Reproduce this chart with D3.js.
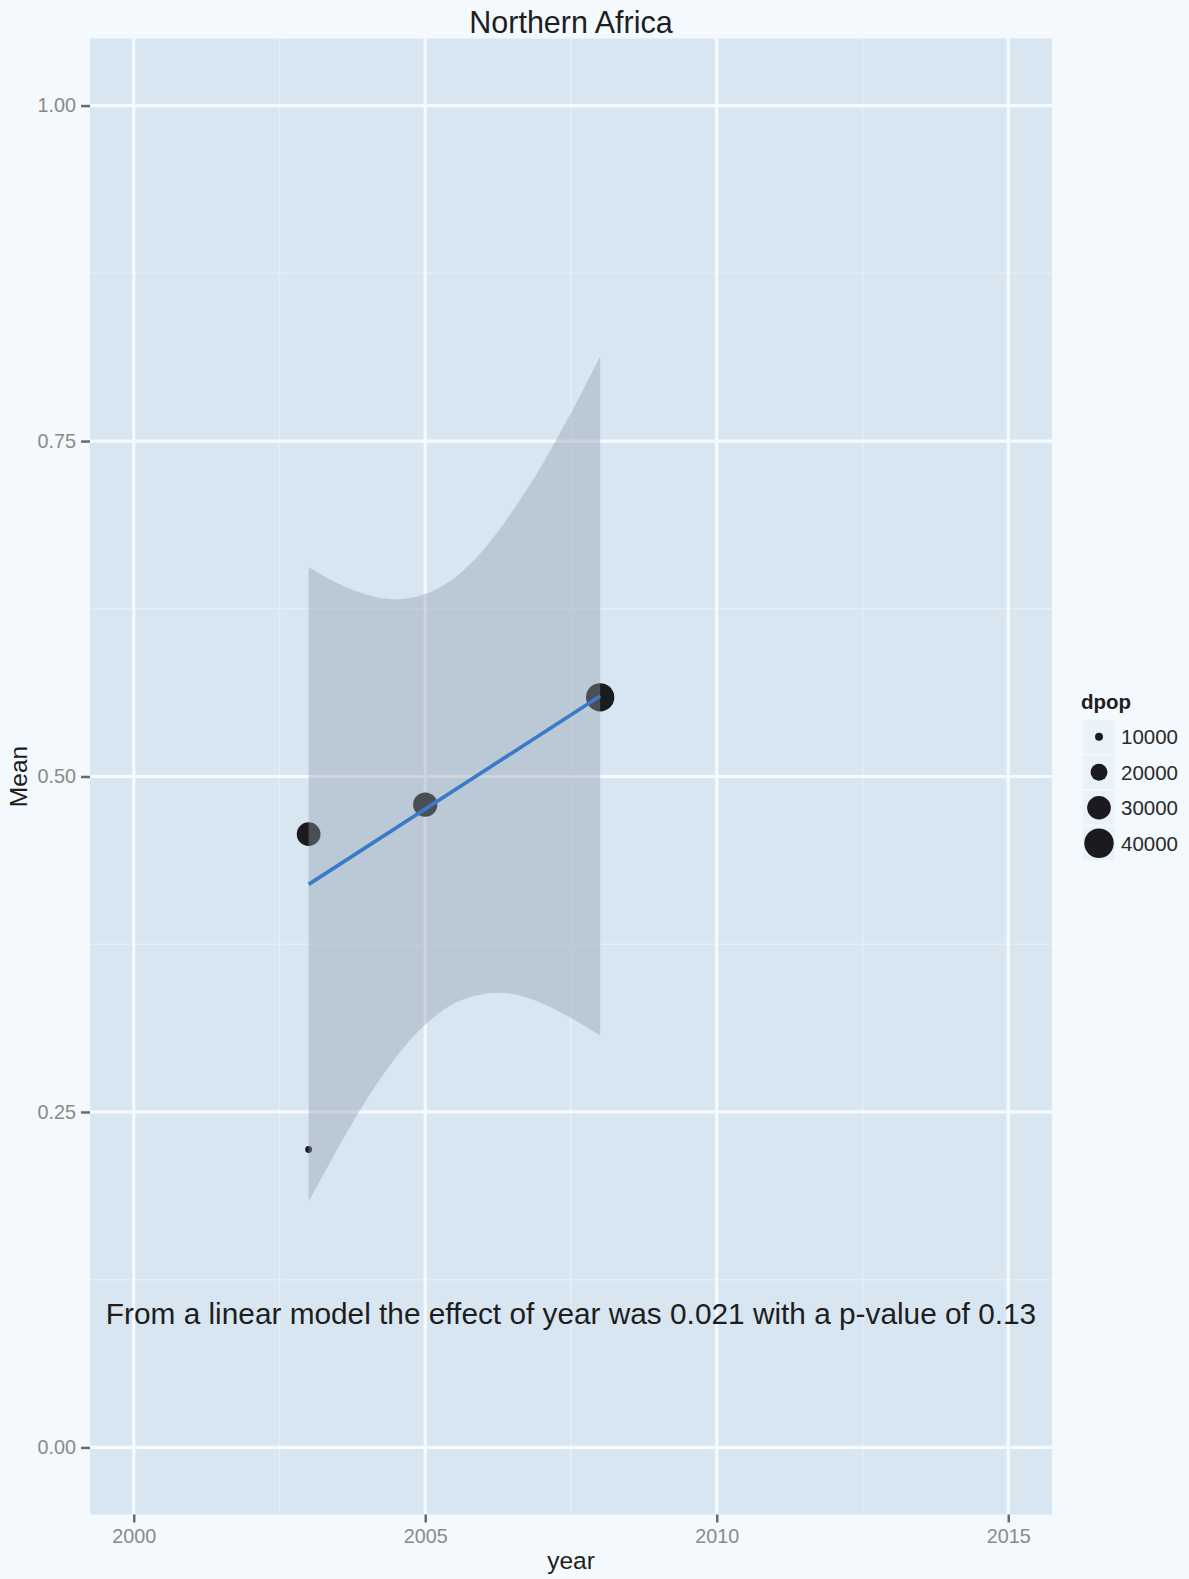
<!DOCTYPE html>
<html>
<head>
<meta charset="utf-8">
<script src="https://cdnjs.cloudflare.com/ajax/libs/d3/7.8.5/d3.min.js"></script>
<style>
  html, body { margin: 0; padding: 0; background: #f3f9fd; }
  svg { display: block; }
  text { font-family: "Liberation Sans", Arial, sans-serif; }
</style>
</head>
<body>
<script>
// ---- data ----
const title = "Northern Africa";
const pointYears = [2003, 2003, 2005, 2008];
const pointMeans = [0.457, 0.222, 0.479, 0.559];
const pointDpop  = [30000, 9000, 31000, 38000];

const fitYears = [2003, 2008];
const fitMeans = [0.4196, 0.5600];

const ribbonYears = [2003, 2003.5, 2004, 2004.5, 2005, 2005.5, 2006, 2006.5, 2007, 2007.5, 2008];
const ribbonUpper = [0.656, 0.644, 0.6355, 0.632, 0.636, 0.648, 0.669, 0.698, 0.732, 0.771, 0.813];
const ribbonLower = [0.183, 0.223, 0.2597, 0.291, 0.315, 0.331, 0.338, 0.338, 0.331, 0.320, 0.307];

const xTicks = [2000, 2005, 2010, 2015];
const xMinor = [2002.5, 2007.5, 2012.5];
const yTicks = [0, 0.25, 0.5, 0.75, 1.0];
const yMinor = [0.125, 0.375, 0.625, 0.875];

const legendTitle = "dpop";
const legendValues = [10000, 20000, 30000, 40000];

const annotation = "From a linear model the effect of year was 0.021 with a p-value of 0.13";
const annotationPos = [2007.5, 0.1];

// ---- layout ----
const W = 1189, H = 1579;
const panel = { left: 90, right: 1052, top: 38.5, bottom: 1514.5 };

const svg = d3.select("body").append("svg").attr("width", W).attr("height", H);
svg.append("rect").attr("width", W).attr("height", H).attr("fill", "#f3f9fd");

const x = d3.scaleLinear().domain([1999.25, 2015.75]).range([panel.left, panel.right]);
const y = d3.scaleLinear().domain([-0.05, 1.05]).range([panel.bottom, panel.top]);
const r = d3.scaleSqrt().domain([10000, 40000]).range([4, 14.7]);

// panel background
svg.append("rect")
  .attr("x", panel.left).attr("y", panel.top)
  .attr("width", panel.right - panel.left).attr("height", panel.bottom - panel.top)
  .attr("fill", "#d8e6f2");

const grid = svg.append("g");
// minor grid
grid.selectAll(".xm").data(xMinor).enter().append("line")
  .attr("x1", d => x(d)).attr("x2", d => x(d))
  .attr("y1", panel.top).attr("y2", panel.bottom)
  .attr("stroke", "#e4eef7").attr("stroke-width", 1.6);
grid.selectAll(".ym").data(yMinor).enter().append("line")
  .attr("y1", d => y(d)).attr("y2", d => y(d))
  .attr("x1", panel.left).attr("x2", panel.right)
  .attr("stroke", "#e4eef7").attr("stroke-width", 1.6);
// major grid
grid.selectAll(".xM").data(xTicks).enter().append("line")
  .attr("x1", d => x(d)).attr("x2", d => x(d))
  .attr("y1", panel.top).attr("y2", panel.bottom)
  .attr("stroke", "#f6fafd").attr("stroke-width", 3.2);
grid.selectAll(".yM").data(yTicks).enter().append("line")
  .attr("y1", d => y(d)).attr("y2", d => y(d))
  .attr("x1", panel.left).attr("x2", panel.right)
  .attr("stroke", "#f6fafd").attr("stroke-width", 3.2);

// points (drawn before the ribbon, as in the reference)
const pts = pointYears.map((yr, i) => ({ yr, m: pointMeans[i], p: pointDpop[i] }));
svg.append("g").selectAll("circle").data(pts).enter().append("circle")
  .attr("cx", d => x(d.yr)).attr("cy", d => y(d.m)).attr("r", d => r(d.p))
  .attr("fill", "#1b1b1f");

// confidence ribbon
const rib = ribbonYears.map((yr, i) => ({ yr, lo: ribbonLower[i], hi: ribbonUpper[i] }));
const area = d3.area()
  .x(d => x(d.yr)).y0(d => y(d.lo)).y1(d => y(d.hi))
  .curve(d3.curveNatural);
svg.append("path").datum(rib).attr("d", area)
  .attr("fill", "rgb(146,155,172)").attr("fill-opacity", 0.4);

// fitted line
const fit = fitYears.map((yr, i) => ({ yr, m: fitMeans[i] }));
svg.append("path").datum(fit)
  .attr("d", d3.line().x(d => x(d.yr)).y(d => y(d.m)))
  .attr("fill", "none").attr("stroke", "#3a7bc8").attr("stroke-width", 3.6);

// annotation
svg.append("text")
  .attr("x", x(annotationPos[0])).attr("y", y(annotationPos[1]))
  .attr("text-anchor", "middle").attr("dominant-baseline", "central")
  .attr("font-size", 29.8).attr("fill", "#1e1e1e")
  .text(annotation);

// axes
const xAxis = d3.axisBottom(x).tickValues(xTicks).tickFormat(d3.format("d")).tickSize(8).tickPadding(6);
const gx = svg.append("g").attr("transform", `translate(0,${panel.bottom})`).call(xAxis);
gx.select(".domain").remove();
gx.selectAll(".tick line").attr("stroke", "#6a6a6a").attr("stroke-width", 2.5);
gx.selectAll(".tick text").attr("font-size", 19.8).attr("fill", "#8a8a8a")
  .attr("font-family", "'Liberation Sans', Arial, sans-serif");

const yAxis = d3.axisLeft(y).tickValues(yTicks).tickFormat(d3.format(".2f")).tickSize(9).tickPadding(5);
const gy = svg.append("g").attr("transform", `translate(${panel.left},0)`).call(yAxis);
gy.select(".domain").remove();
gy.selectAll(".tick line").attr("stroke", "#6a6a6a").attr("stroke-width", 2.5);
gy.selectAll(".tick text").attr("font-size", 19.8).attr("fill", "#8a8a8a")
  .attr("font-family", "'Liberation Sans', Arial, sans-serif");

// titles
svg.append("text").attr("x", (panel.left + panel.right) / 2).attr("y", 32.5)
  .attr("text-anchor", "middle").attr("font-size", 30.5).attr("fill", "#1e1e1e").text(title);
svg.append("text").attr("x", (panel.left + panel.right) / 2).attr("y", 1569)
  .attr("text-anchor", "middle").attr("font-size", 24.5).attr("fill", "#1e1e1e").text("year");
svg.append("text")
  .attr("transform", `translate(26.5,${(panel.top + panel.bottom) / 2}) rotate(-90)`)
  .attr("text-anchor", "middle").attr("font-size", 24.5).attr("fill", "#1e1e1e").text("Mean");

// legend
const lg = svg.append("g");
lg.append("text").attr("x", 1081).attr("y", 709).attr("font-size", 20.5).attr("font-weight", "bold")
  .attr("fill", "#1e1e1e").text(legendTitle);
const keyTop = 719, keyH = 35.5, keyX = 1083, keyW = 32;
legendValues.forEach((v, i) => {
  const cy = keyTop + keyH * i + keyH / 2;
  lg.append("rect").attr("x", keyX).attr("y", keyTop + keyH * i + 1)
    .attr("width", keyW).attr("height", keyH - 2).attr("fill", "#e9f2f9");
  lg.append("circle").attr("cx", keyX + keyW / 2).attr("cy", cy).attr("r", r(v)).attr("fill", "#1b1b1f");
  lg.append("text").attr("x", 1121).attr("y", cy).attr("dominant-baseline", "central")
    .attr("font-size", 20.5).attr("fill", "#2a2a2a").text(d3.format("d")(v));
});
</script>
</body>
</html>
